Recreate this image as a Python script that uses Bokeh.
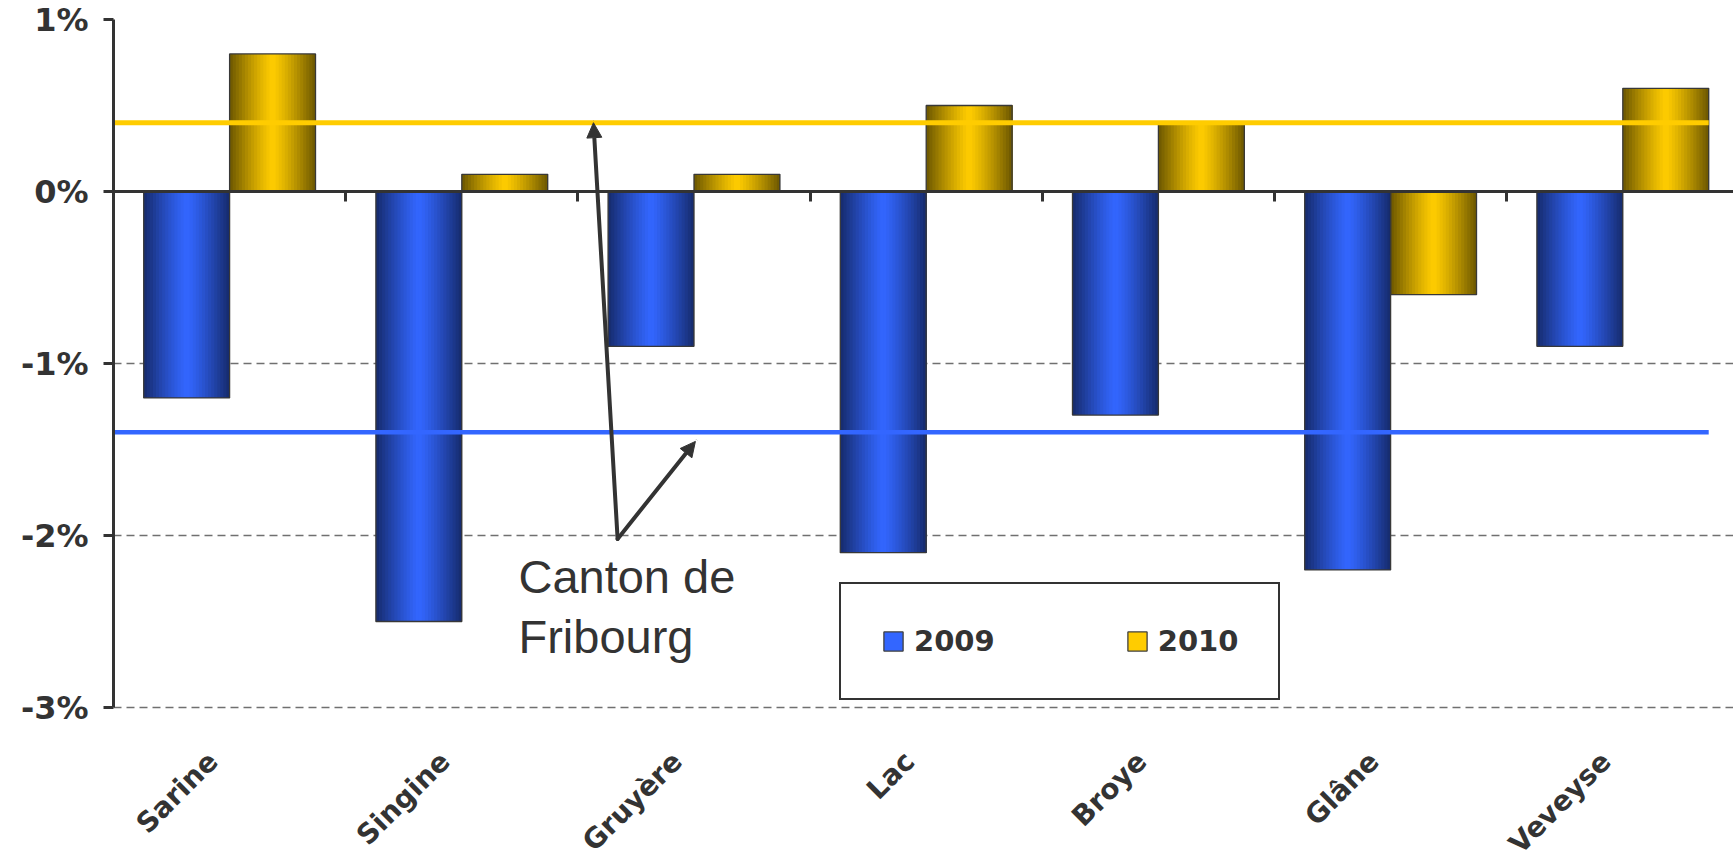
import math
from bokeh.plotting import figure
from bokeh.models import (ColumnDataSource, Range1d, LinearAxis, FixedTicker,
                          PrintfTickFormatter, CustomJSTickFormatter, Legend, LegendItem,
                          Label, Arrow, NormalHead)
from bokeh.core.properties import value
from bokeh.embed import file_html
from bokeh.resources import INLINE

# ---------------- data ----------------
categories = ["Sarine", "Singine", "Gruyère", "Lac", "Broye", "Glâne", "Veveyse"]
series_names = ["2009", "2010"]
values_2009 = [-1.2, -2.5, -0.9, -2.1, -1.3, -2.2, -0.9]
values_2010 = [0.8, 0.1, 0.1, 0.5, 0.4, -0.6, 0.6]
canton_2009 = -1.4
canton_2010 = 0.4
y_ticks = [-3, -2, -1, 0, 1]
canton_label = ["Canton de", "Fribourg"]

# ---------------- style ----------------
BLUE = (0x33, 0x66, 0xFF)
GOLD = (0xFF, 0xCC, 0x00)
TXT = "#333333"
FONT = "DejaVu Sans"
BAR_W = 0.37
N_SLICES = 28
Y_MIN, Y_MAX = -3, 1
Y_LOW = Y_MIN - 144 / 172.0     # room for the category labels inside the frame
X_END = 1620 / 232.2


def hexc(rgb):
    return "#%02x%02x%02x" % rgb


def shade(rgb, t):
    f = 1 - 0.58 * (t ** 1.2)
    return "#%02x%02x%02x" % tuple(int(round(c * f)) for c in rgb)


p = figure(width=1733, height=851, output_backend="svg", toolbar_location=None,
           x_range=Range1d(0, X_END), y_range=Range1d(Y_LOW, Y_MAX),
           x_axis_location=None, min_border_left=113, min_border_right=0,
           min_border_top=19, min_border_bottom=0)
p.outline_line_color = None
p.xgrid.visible = False
p.background_fill_color = "white"
p.border_fill_color = "white"

# y grid
p.ygrid.ticker = FixedTicker(ticks=y_ticks)
p.ygrid.grid_line_color = "#707070"
p.ygrid.grid_line_width = 1.3
p.ygrid.grid_line_dash = "8 5"

# y axis
ya = p.yaxis[0]
ya.ticker = FixedTicker(ticks=y_ticks, minor_ticks=[])
ya.formatter = PrintfTickFormatter(format="%d%%")
ya.bounds = (Y_MIN, Y_MAX)
ya.axis_line_color = TXT
ya.axis_line_width = 3
ya.major_tick_line_color = TXT
ya.major_tick_line_width = 3
ya.major_tick_out = 10
ya.major_tick_in = 0
ya.minor_tick_line_color = None
ya.major_label_standoff = 15
ya.major_label_text_font = FONT
ya.major_label_text_font_style = "bold"
ya.major_label_text_font_size = "32px"
ya.major_label_text_color = TXT

# zero axis with category boundary ticks (drawn at y = 0)
za = LinearAxis(fixed_location=0,
                ticker=FixedTicker(ticks=list(range(len(categories) + 1)), minor_ticks=[]),
                formatter=CustomJSTickFormatter(code="return ''"))
za.axis_line_color = TXT
za.axis_line_width = 3
za.major_tick_line_color = TXT
za.major_tick_line_width = 3
za.major_tick_out = 0
za.major_tick_in = 10
za.minor_tick_line_color = None
za.major_label_text_font_size = "10px"
za.major_label_standoff = 0
p.add_layout(za, "above")

# gradient bars built from the data
xs, ws, tops, cols = [], [], [], []
for s_idx, (vals, rgb) in enumerate([(values_2009, BLUE), (values_2010, GOLD)]):
    for i, v in enumerate(vals):
        left = i + 0.5 - BAR_W + s_idx * BAR_W
        right = left + BAR_W
        for k in range(N_SLICES):
            xl = left + BAR_W * k / N_SLICES
            t = abs(2 * (k + 0.5) / N_SLICES - 1)
            xs.append((xl + right) / 2)
            ws.append(right - xl)
            tops.append(v)
            cols.append(shade(rgb, t))
slices = ColumnDataSource(dict(x=xs, w=ws, top=tops, c=cols))
p.vbar(x="x", width="w", top="top", bottom=0, fill_color="c", line_color=None, source=slices)

ox, otop = [], []
for s_idx, vals in enumerate([values_2009, values_2010]):
    for i, v in enumerate(vals):
        ox.append(i + 0.5 - BAR_W / 2 + s_idx * BAR_W)
        otop.append(v)
p.vbar(x=ox, top=otop, bottom=0, width=BAR_W, fill_color=None,
       line_color="#383838", line_width=1.3)

# canton lines
line_x = [0, len(categories) - 0.5 + BAR_W]
p.line(x=line_x, y=[canton_2010] * 2, line_color=hexc(GOLD), line_width=5)
p.line(x=line_x, y=[canton_2009] * 2, line_color=hexc(BLUE), line_width=4.5)

# legend renderers (placed outside the visible x range)
leg_r = []
for rgb in (BLUE, GOLD):
    r = p.vbar(x=[-10], top=[0.5], width=0.1,
               fill_color=hexc(rgb), line_color="#404040", line_width=1.3)
    leg_r.append(r)
legend = Legend(items=[LegendItem(label=series_names[0], renderers=[leg_r[0]]),
                       LegendItem(label=series_names[1], renderers=[leg_r[1]])],
                orientation="horizontal", location=(726, 151), padding=40, spacing=130,
                glyph_width=24, glyph_height=24, label_standoff=9, margin=0,
                label_text_font=FONT, label_text_font_style="bold",
                label_text_font_size="29px", label_text_color=TXT,
                border_line_color=TXT, border_line_width=2, border_line_alpha=1,
                background_fill_color="white", background_fill_alpha=1)
p.add_layout(legend, "center")

# category labels (inside the frame, below -3%)
lab_src = ColumnDataSource(dict(x=[i + 0.5 - 0.072 for i in range(len(categories))],
                                y=[Y_MIN - 0.285] * len(categories),
                                t=categories))
p.text(x="x", y="y", text="t", source=lab_src, angle=math.pi / 4,
       text_align="right", text_baseline="middle",
       text_font=value(FONT), text_font_style="bold",
       text_font_size="28px", text_color=TXT)

# annotation
vx, vy = 2.171, -2.02
for xe, ye in [(2.067, canton_2010), (2.506, canton_2009 - 0.053)]:
    p.add_layout(Arrow(end=NormalHead(size=15, fill_color=TXT, line_color=TXT, line_width=1),
                       x_start=vx, y_start=vy, x_end=xe, y_end=ye,
                       line_color=TXT, line_width=4, line_cap="round"))
label_y = [-2.239, -2.59]
for txt, ly in zip(canton_label, label_y):
    p.add_layout(Label(x=1.744, y=ly, text=txt, text_font="Liberation Sans",
                       text_font_size="47px", text_color=TXT, text_baseline="alphabetic"))

open("out.html", "w").write(file_html(p, INLINE))
